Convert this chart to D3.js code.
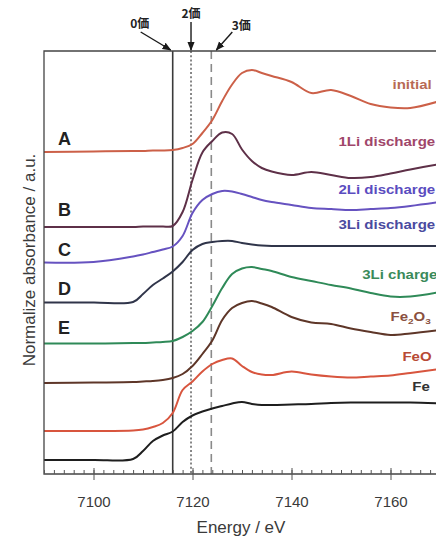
<!DOCTYPE html>
<html>
<head>
<meta charset="utf-8">
<script src="https://cdn.jsdelivr.net/npm/d3@7"></script>
<style>
  html, body { margin: 0; padding: 0; background: #fff; overflow: hidden; }
  text { font-family: "Liberation Sans", Arial, sans-serif; }
</style>
</head>
<body>
<div id="chart"></div>
<script>
// energy grid (eV) shared by every spectrum
const energy = [7090, 7100, 7108, 7110, 7112, 7114, 7116, 7118, 7120, 7122, 7124, 7126, 7128,
  7130, 7132, 7134, 7136, 7140, 7144, 7148, 7152, 7156, 7160, 7164, 7170];

// normalized absorbance, offset stacked (a.u.)
const initialAbs = [6.44, 6.45, 6.46, 6.46, 6.47, 6.47, 6.48, 6.52, 6.60, 6.82, 7.08, 7.46, 7.79,
  8.02, 8.08, 8.02, 7.96, 7.84, 7.62, 7.68, 7.56, 7.40, 7.33, 7.32, 7.46];
const li1Discharge = [4.94, 4.94, 4.94, 4.95, 4.95, 4.95, 4.96, 5.24, 5.88, 6.43, 6.66, 6.83, 6.80,
  6.49, 6.26, 6.12, 6.05, 5.98, 6.04, 5.98, 5.92, 5.94, 6.01, 6.09, 6.20];
const li2Discharge = [4.23, 4.24, 4.35, 4.39, 4.44, 4.49, 4.55, 4.76, 5.22, 5.48, 5.60, 5.66, 5.65,
  5.60, 5.54, 5.48, 5.44, 5.38, 5.32, 5.30, 5.28, 5.30, 5.32, 5.36, 5.44];
const li3Discharge = [3.43, 3.43, 3.44, 3.60, 3.78, 3.91, 4.05, 4.24, 4.48, 4.60, 4.64, 4.66, 4.66,
  4.62, 4.59, 4.57, 4.56, 4.56, 4.56, 4.56, 4.56, 4.56, 4.56, 4.56, 4.56];
const li3Charge = [2.61, 2.61, 2.62, 2.62, 2.63, 2.64, 2.66, 2.74, 2.86, 3.04, 3.36, 3.72, 4.00,
  4.11, 4.14, 4.10, 4.06, 3.94, 3.86, 3.78, 3.71, 3.62, 3.55, 3.55, 3.64];
const fe2o3Ref = [1.82, 1.83, 1.84, 1.85, 1.86, 1.88, 1.92, 2.00, 2.16, 2.40, 2.67, 3.08, 3.32,
  3.42, 3.46, 3.41, 3.34, 3.14, 3.03, 3.00, 2.91, 2.84, 2.78, 2.81, 2.88];
const feoRef = [0.86, 0.86, 0.87, 0.89, 0.94, 1.02, 1.22, 1.68, 1.85, 2.05, 2.20, 2.28, 2.31,
  2.16, 2.04, 1.99, 1.98, 2.05, 1.99, 1.95, 1.93, 1.95, 1.97, 2.02, 2.10];
const feRef = [0.28, 0.28, 0.30, 0.46, 0.66, 0.77, 0.85, 1.04, 1.17, 1.25, 1.31, 1.36, 1.41,
  1.44, 1.40, 1.38, 1.38, 1.39, 1.40, 1.42, 1.43, 1.43, 1.43, 1.43, 1.41];

const seriesNames = ['initial', '1Li discharge', '2Li discharge', '3Li discharge', '3Li charge',
  'Fe2O3', 'FeO', 'Fe'];
const seriesLetters = ['A', 'B', 'C', 'D', 'E'];
const xTickLabels = [7100, 7120, 7140, 7160];

// edge positions for Fe(0), Fe(II), Fe(III)
const markerEnergy = [7116, 7119.7, 7123.8];
const markerLabels = ['0価', '2価', '3価'];

const allSeries = [initialAbs, li1Discharge, li2Discharge, li3Discharge, li3Charge, fe2o3Ref, feoRef, feRef];

const lineColors = ['#cc6048', '#5e3048', '#6652c0', '#30354a', '#2f8a58', '#5e3628', '#d8553e', '#1e1e1e'];
const textColors = ['#b86a55', '#a0466a', '#5a4cc0', '#4a4aa0', '#3a8a5a', '#8a5040', '#b84a35', '#333'];
// label anchor (energy, absorbance) for each curve name
const labelAt = [[7160.4, 7.78], [7149.5, 6.65], [7149.5, 5.68], [7149.5, 4.98], [7154.3, 3.98],
  [7160, 3.14], [7162.4, 2.34], [7164.4, 1.74]];

const width = 436, height = 538;
const x = d3.scaleLinear().domain([7090, 7170]).range([44, 440]);
const y = d3.scaleLinear().domain([0, 8.46]).range([474, 51]);

const svg = d3.select('#chart').append('svg')
  .attr('width', width).attr('height', height);

svg.append('defs').append('clipPath').attr('id', 'plotClip')
  .append('rect').attr('x', 44).attr('y', 51).attr('width', 420).attr('height', 423);

const marker = svg.select('defs').append('marker')
  .attr('id', 'arrow').attr('viewBox', '0 0 10 10')
  .attr('refX', 9).attr('refY', 5)
  .attr('markerWidth', 9).attr('markerHeight', 9)
  .attr('markerUnits', 'userSpaceOnUse')
  .attr('orient', 'auto');
marker.append('path').attr('d', 'M0,1 L10,5 L0,9 Z').attr('fill', '#1a1a1a');

// reference edge lines
const markerDash = [null, '2,2.2', '8,5'];
const markerStroke = ['#3a3a3a', '#555', '#8a8a8a'];
svg.append('g').selectAll('line')
  .data(markerEnergy)
  .enter().append('line')
  .attr('x1', d => x(d)).attr('x2', d => x(d))
  .attr('y1', 51).attr('y2', 474)
  .attr('stroke', (d, i) => markerStroke[i])
  .attr('stroke-width', (d, i) => i === 1 ? 1.4 : 1.6)
  .attr('stroke-dasharray', (d, i) => markerDash[i]);

// spectra
const line = d3.line()
  .x((d, i) => x(energy[i]))
  .y(d => y(d))
  .curve(d3.curveCatmullRom.alpha(0.5));

svg.append('g').attr('clip-path', 'url(#plotClip)')
  .selectAll('path')
  .data(allSeries)
  .enter().append('path')
  .attr('d', line)
  .attr('fill', 'none')
  .attr('stroke', (d, i) => lineColors[i])
  .attr('stroke-width', 2);

// frame
svg.append('path')
  .attr('d', 'M450,51 H44 V474 H450')
  .attr('fill', 'none')
  .attr('stroke', '#444')
  .attr('stroke-width', 1.3);

// x axis: minor inward ticks + labelled majors
const minorAxis = d3.axisBottom(x).tickValues(d3.range(7090, 7171, 2)).tickSize(-4).tickFormat('');
const gMinor = svg.append('g').attr('transform', 'translate(0,474)').call(minorAxis);
gMinor.select('.domain').remove();
gMinor.selectAll('line').attr('stroke', '#555');

const majorAxis = d3.axisBottom(x).tickValues(xTickLabels).tickSize(6).tickPadding(16)
  .tickFormat(d3.format('d'));
const gMajor = svg.append('g').attr('transform', 'translate(0,474)').call(majorAxis);
gMajor.select('.domain').remove();
gMajor.selectAll('line').attr('y1', -6).attr('stroke', '#555');
gMajor.selectAll('text')
  .style('font-size', '15px')
  .style('font-family', '"Liberation Sans", Arial, sans-serif')
  .attr('fill', '#3a3a3a');

svg.append('text')
  .attr('x', 241).attr('y', 533)
  .attr('text-anchor', 'middle')
  .style('font-size', '17px')
  .attr('fill', '#3a3a3a')
  .text('Energy / eV');

svg.append('text')
  .attr('transform', 'translate(35,260) rotate(-90)')
  .attr('text-anchor', 'middle')
  .style('font-size', '17px')
  .attr('fill', '#3a3a3a')
  .text('Normalize absorbance / a.u.');

// letters A-E over the left end of the cell spectra
const letterLift = [7, 11, 7, 8, 10];
svg.append('g').selectAll('text')
  .data(seriesLetters)
  .enter().append('text')
  .attr('x', 58)
  .attr('y', (d, i) => y(allSeries[i][0]) - letterLift[i])
  .style('font-size', '18px')
  .style('font-weight', 'bold')
  .attr('fill', '#222')
  .text(d => d);

// curve names on the right
const names = svg.append('g').selectAll('text')
  .data(seriesNames)
  .enter().append('text')
  .attr('transform', (d, i) => `translate(${x(labelAt[i][0])},${y(labelAt[i][1]) + 4}) scale(1.25,1)`)
  .style('font-size', '12px')
  .style('font-weight', 'bold')
  .attr('fill', (d, i) => textColors[i]);
names.each(function (d) {
  const t = d3.select(this);
  if (d === 'Fe2O3') {
    t.append('tspan').text('Fe');
    t.append('tspan').attr('dy', 3).style('font-size', '8px').text('2');
    t.append('tspan').attr('dy', -3).text('O');
    t.append('tspan').attr('dy', 3).style('font-size', '8px').text('3');
  } else {
    t.text(d);
  }
});

// valence arrows above the frame
const tipShift = [-2, 0, 5];
const tailShift = [[-30, -18], [0, -28], [16, -18]];
const labelShift = [[-1, -4], [0, -4], [9, -2]];
const arrows = svg.append('g');
markerEnergy.forEach((e, i) => {
  const tx = x(e) + tipShift[i], ty = 50;
  const sx = tx + tailShift[i][0], sy = ty + tailShift[i][1];
  arrows.append('line')
    .attr('x1', sx).attr('y1', sy).attr('x2', tx).attr('y2', ty)
    .attr('stroke', '#1a1a1a').attr('stroke-width', 1.4)
    .attr('marker-end', 'url(#arrow)');
  arrows.append('text')
    .attr('x', sx + labelShift[i][0]).attr('y', sy + labelShift[i][1])
    .attr('text-anchor', 'middle')
    .style('font-family', '"Noto Sans CJK JP", sans-serif')
    .style('font-size', '12px')
    .style('font-weight', 'bold')
    .attr('fill', '#222')
    .text(markerLabels[i]);
});
</script>
</body>
</html>
